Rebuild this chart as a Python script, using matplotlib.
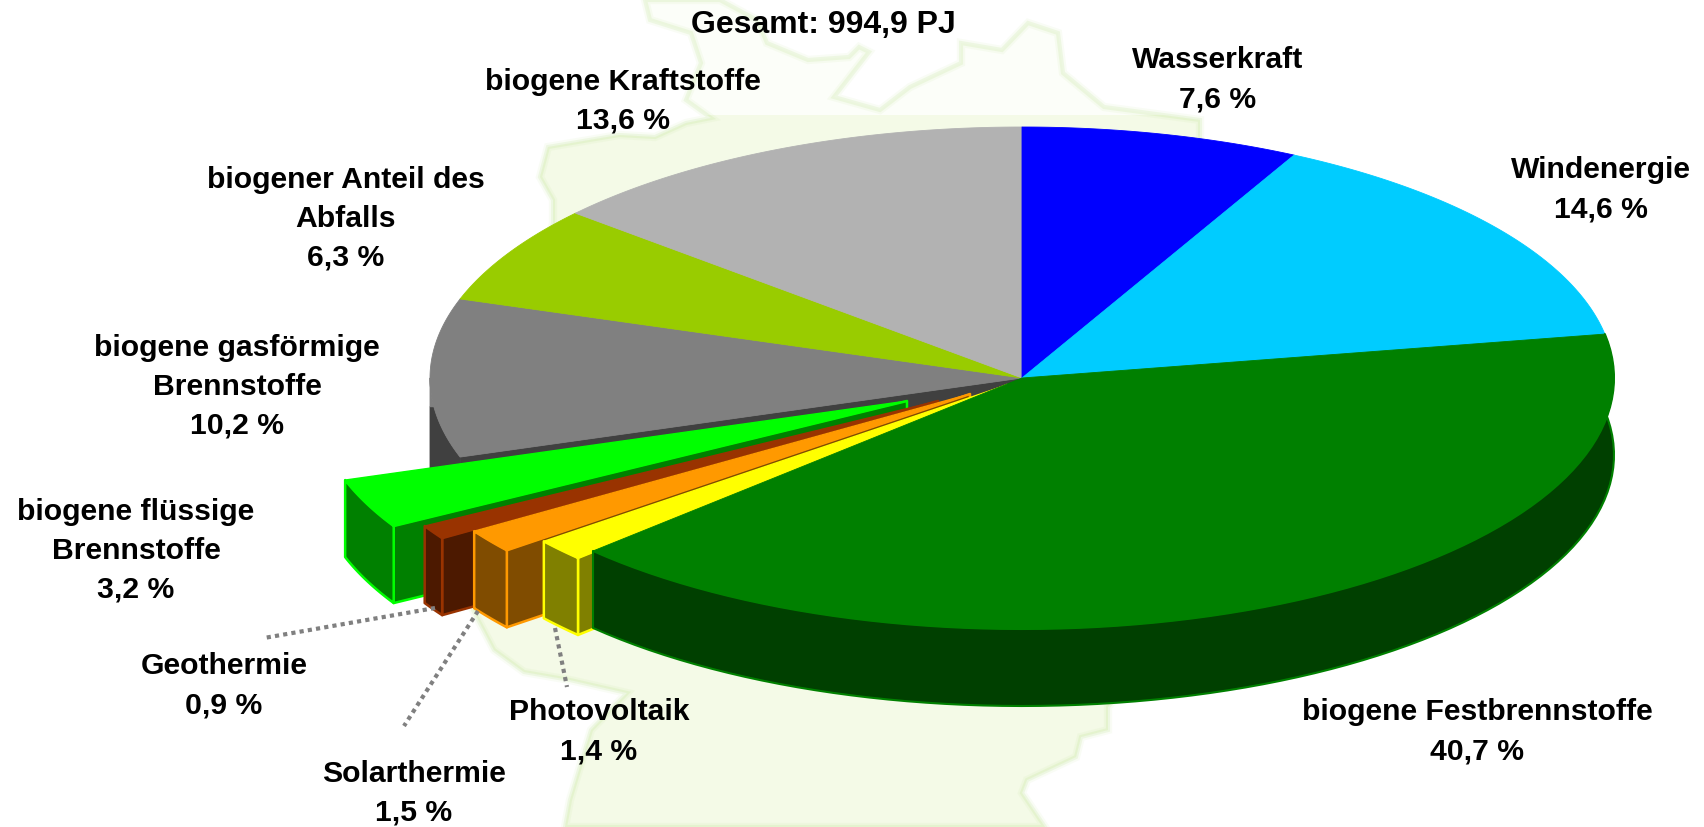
import numpy as np
import matplotlib
matplotlib.use("Agg")
import matplotlib.pyplot as plt
from matplotlib.patches import Polygon, Rectangle

# shares in percent, clockwise from the top
names = ["Wasserkraft", "Windenergie", "biogene Festbrennstoffe", "Photovoltaik",
         "Solarthermie", "Geothermie", "biogene flüssige\nBrennstoffe",
         "biogene gasförmige\nBrennstoffe", "biogener Anteil des\nAbfalls",
         "biogene Kraftstoffe"]
shares = [7.6, 14.6, 40.7, 1.4, 1.5, 0.9, 3.2, 10.2, 6.3, 13.6]
share_text = ["7,6 %", "14,6 %", "40,7 %", "1,4 %", "1,5 %", "0,9 %", "3,2 %",
              "10,2 %", "6,3 %", "13,6 %"]
title = "Gesamt: 994,9 PJ"

top_colors = ["#0000FF", "#00CCFF", "#008000", "#FFFF00", "#FF9900", "#993300",
              "#00FF00", "#808080", "#99CC00", "#B2B2B2"]
side_colors = ["#000080", "#006680", "#004000", "#808000", "#804C00", "#4C1900",
               "#008000", "#404040", "#4C6600", "#595959"]

# how far the small slices are pulled out (pixels)
pull_x = [0, 0, 0, -15, -52, -84, -115, 0, 0, 0]
pull_y = [0, 0, 0, 7, 16, 23, 23, 0, 0, 0]

# label centres in pixels
label_x = [1218, 1601, 1477, 599, 414, 224, 136, 237, 346, 623]
label_y = [80, 190, 732, 732, 793, 686, 551, 387, 219, 101]

# dotted leaders for the three small slices
leader_a = {3: (555, 628), 4: (478, 611), 5: (435, 608)}
leader_b = {3: (567, 687), 4: (404, 726), 5: (264, 638)}

# faded map in the background (decoration only)
map_outline = [(645, 0), (650, 20), (691, 33), (701, 63), (686, 100), (711, 118), (686, 123),
               (655, 137), (619, 135), (548, 147), (540, 177), (553, 200), (553, 223), (530, 300),
               (473, 610), (494, 650), (524, 672), (570, 680), (627, 693), (591, 730), (570, 800),
               (565, 827), (1045, 827), (1022, 793), (1027, 780), (1076, 757), (1081, 737),
               (1108, 730), (1108, 707), (1200, 600), (1200, 120), (1104, 107), (1063, 73),
               (1058, 33), (1028, 23), (1002, 50), (961, 43), (961, 63), (910, 87), (880, 110),
               (834, 97), (869, 52), (859, 47), (849, 57), (808, 60), (767, 43), (757, 20), (720, 0)]

cx, cy = 1022, 378
rx, ry = 592, 251
depth = 77

plt.rcParams["font.family"] = ["Liberation Sans", "DejaVu Sans"]

fig = plt.figure(figsize=(17.04, 8.27), dpi=100)
ax = fig.add_axes([0, 0, 1, 1])
ax.set_xlim(0, 1704)
ax.set_ylim(827, 0)
ax.axis("off")


def rim(f0, f1, dx=0, dy=0):
    t = np.linspace(f0, f1, 80) * 2 * np.pi
    return np.column_stack((cx + dx + rx * np.sin(t), cy + dy - ry * np.cos(t)))


def shape(points, color, edge=None, lw=0.0):
    ax.add_patch(Polygon(points, closed=True, facecolor=color,
                         edgecolor=edge if edge else color, linewidth=lw if edge else 0.6,
                         joinstyle="round"))


# background map
ax.add_patch(Polygon(map_outline, closed=True, facecolor="#FCFEF9", edgecolor="none"))
low_fill = Polygon(map_outline, closed=True, facecolor="#F4FAE7", edgecolor="none")
ax.add_patch(low_fill)
low_fill.set_clip_path(Rectangle((0, 115), 1704, 712, transform=ax.transData))
for w, a in [(6, 0.08), (3, 0.16)]:
    ax.add_patch(Polygon(map_outline, closed=True, fill=False, edgecolor="#B4E080",
                         linewidth=w, alpha=a))

# slice limits as fractions of the circle
ends = np.cumsum(shares) / np.sum(shares)
starts = np.concatenate(([0], ends[:-1]))

# the leaders sit under the slices
for i in leader_a:
    ax.plot([leader_a[i][0], leader_b[i][0]], [leader_a[i][1], leader_b[i][1]],
            color="#808080", linewidth=3, linestyle=(0, (1, 1)))

# back slices first, their wall shows through the gap left by the pulled slices
gas = 7
gas_wall = rim(starts[gas], 0.7317)
corner = np.array([[cx - rx, gas_wall[-1, 1]]])
shape(np.vstack((gas_wall, corner, corner + [0, depth], gas_wall[::-1] + [0, depth])), side_colors[gas])
first_edge = rim(starts[gas], starts[gas])[:1]
shape(np.vstack(([[cx, cy]], first_edge, first_edge + [0, depth], [[cx, cy + depth]])), side_colors[gas])
for i in [7, 8, 9, 0, 1]:
    shape(np.vstack(([[cx, cy]], rim(starts[i], ends[i]))), top_colors[i])
# the left edge of the grey slice runs straight down to the wall
shape(np.vstack((rim(0.7317, 0.75), corner)), top_colors[gas])

# pulled slices from the back to the front
for i in [6, 5, 4, 3]:
    dx, dy = pull_x[i], pull_y[i]
    apex = np.array([[cx + dx, cy + dy]])
    arc = rim(starts[i], ends[i], dx, dy)
    shape(np.vstack((apex, arc[:1], arc[:1] + [0, depth], apex + [0, depth])), side_colors[i],
          top_colors[i], 1.8)
    shape(np.vstack((arc, arc[::-1] + [0, depth])), side_colors[i], top_colors[i], 1.8)
    shape(np.vstack((apex, arc)), top_colors[i], top_colors[i], 1.0)

# big slice on top of everything
big = 2
wall = rim(starts[big], ends[big])
shape(np.vstack((wall, wall[::-1] + [0, depth])), side_colors[big], top_colors[big], 1.5)
shape(np.vstack(([[cx, cy]], wall)), top_colors[big])

# texts
for i in range(len(names)):
    ax.text(label_x[i], label_y[i], names[i] + "\n" + share_text[i], ha="center", va="center",
            multialignment="center", fontsize=21.7, fontweight="bold", linespacing=1.5,
            color="black")
ax.text(823, 25, title, ha="center", va="center", fontsize=23, fontweight="bold", color="black")

fig.savefig("out.png", dpi=100, facecolor="white")
